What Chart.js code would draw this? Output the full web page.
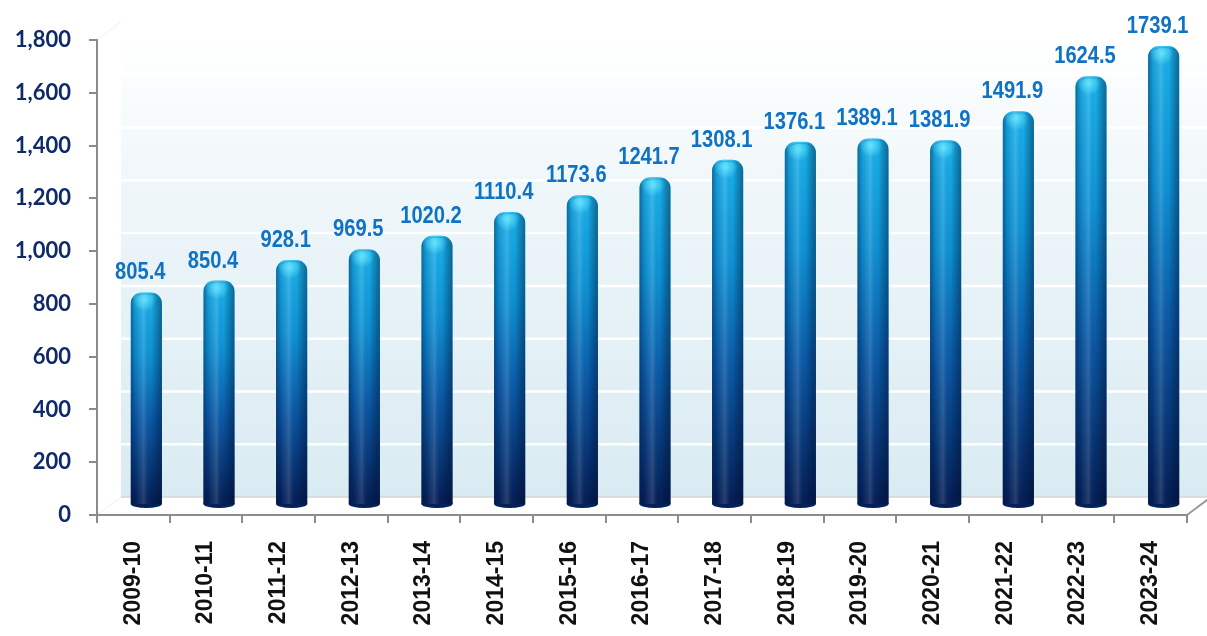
<!DOCTYPE html>
<html>
<head>
<meta charset="utf-8">
<script src="https://cdn.jsdelivr.net/npm/chart.js@4.4.1/dist/chart.umd.min.js"></script>
<style>
  html, body { margin: 0; padding: 0; background: #fff; }
  #wrap { width: 1207px; height: 636px; position: relative; }
</style>
</head>
<body>
<div id="wrap"><canvas id="chart"></canvas></div>
<script>
// data
const years = ['2009-10', '2010-11', '2011-12', '2012-13', '2013-14', '2014-15', '2015-16',
  '2016-17', '2017-18', '2018-19', '2019-20', '2020-21', '2021-22', '2022-23', '2023-24'];
const values = [805.4, 850.4, 928.1, 969.5, 1020.2, 1110.4, 1173.6,
  1241.7, 1308.1, 1376.1, 1389.1, 1381.9, 1491.9, 1624.5, 1739.1];
const yMin = 0;
const yMax = 1800;
const yStep = 200;

// 3d depth of the back wall
const depthX = 24;
const depthY = -18;
// bars sit half way into the depth
const barShiftX = 13;
const barShiftY = -10;

const wallPlugin = {
  id: 'wall',
  beforeDraw(chart) {
    const { ctx, chartArea, width } = chart;
    const y = chart.scales.y;
    const bottom = y.getPixelForValue(0);
    const wallLeft = chartArea.left + depthX;
    const wallBottom = bottom + depthY;
    const wallTop = 36;

    ctx.save();
    const g = ctx.createLinearGradient(0, wallTop, 0, wallBottom);
    g.addColorStop(0, '#ffffff');
    g.addColorStop(0.35, '#eef6f9');
    g.addColorStop(1, '#d9ebf2');
    ctx.fillStyle = g;
    ctx.fillRect(wallLeft, wallTop, width - wallLeft, wallBottom - wallTop);

    // gridlines on the back wall
    ctx.strokeStyle = '#ffffff';
    ctx.lineWidth = 2.5;
    for (let v = yMin + yStep; v < yMax; v += yStep) {
      const py = y.getPixelForValue(v) + depthY;
      ctx.beginPath();
      ctx.moveTo(wallLeft, py);
      ctx.lineTo(width, py);
      ctx.stroke();
    }

    // floor
    ctx.fillStyle = '#ffffff';
    ctx.beginPath();
    ctx.moveTo(chartArea.left, bottom);
    ctx.lineTo(wallLeft, wallBottom);
    ctx.lineTo(width, wallBottom);
    ctx.lineTo(width, bottom);
    ctx.closePath();
    ctx.fill();

    ctx.strokeStyle = '#d4d4d4';
    ctx.lineWidth = 1.5;
    ctx.beginPath();
    ctx.moveTo(wallLeft, wallBottom);
    ctx.lineTo(width, wallBottom);
    ctx.stroke();

    ctx.strokeStyle = '#eeeeee';
    ctx.lineWidth = 1;
    ctx.beginPath();
    ctx.moveTo(chartArea.left, bottom);
    ctx.lineTo(wallLeft, wallBottom);
    ctx.moveTo(chartArea.left, chartArea.top);
    ctx.lineTo(wallLeft, chartArea.top + depthY);
    ctx.stroke();

    // right edge of the floor
    ctx.strokeStyle = '#9a9a9a';
    ctx.lineWidth = 2;
    ctx.beginPath();
    ctx.moveTo(chartArea.right, bottom);
    ctx.lineTo(chartArea.right + depthX, wallBottom);
    ctx.stroke();
    ctx.restore();
  },
  beforeDatasetsDraw(chart) {
    chart.ctx.save();
    chart.ctx.translate(barShiftX, barShiftY);
  },
  afterDatasetsDraw(chart) {
    const ctx = chart.ctx;
    const meta = chart.getDatasetMeta(0);
    meta.data.forEach((bar, i) => {
      const { x, y, width, base } = bar.getProps(['x', 'y', 'width', 'base'], true);
      const left = x - width / 2;
      const r = 11;

      // bottom of the cylinder
      ctx.fillStyle = '#06205a';
      ctx.beginPath();
      ctx.ellipse(x, base, width / 2, 4, 0, 0, Math.PI * 2);
      ctx.fill();

      // side shading
      ctx.save();
      ctx.beginPath();
      ctx.roundRect(left, y, width, base - y, [r, r, 0, 0]);
      ctx.clip();
      const h = ctx.createLinearGradient(left, 0, left + width, 0);
      h.addColorStop(0, 'rgba(0,20,60,0.45)');
      h.addColorStop(0.15, 'rgba(0,20,60,0.12)');
      h.addColorStop(0.42, 'rgba(255,255,255,0.14)');
      h.addColorStop(0.65, 'rgba(0,0,0,0)');
      h.addColorStop(1, 'rgba(0,15,50,0.45)');
      ctx.fillStyle = h;
      ctx.fillRect(left, y, width, base - y + 4);

      // glossy top
      const rg = ctx.createRadialGradient(x - 2, y + 7, 0, x - 2, y + 7, 12);
      rg.addColorStop(0, 'rgba(110,235,255,0.85)');
      rg.addColorStop(1, 'rgba(110,235,255,0)');
      ctx.fillStyle = rg;
      ctx.fillRect(left, y, width, 24);
      ctx.restore();

      ctx.strokeStyle = 'rgba(0,70,130,0.25)';
      ctx.lineWidth = 1;
      ctx.beginPath();
      ctx.ellipse(x, y + 4, width / 2 - 6, 2.5, 0, Math.PI, Math.PI * 2);
      ctx.stroke();

      // value label, squeezed to look like a narrow face
      ctx.save();
      ctx.translate(x - 6, y - 13);
      ctx.scale(0.84, 1);
      ctx.fillStyle = '#0f72c4';
      ctx.font = 'bold 24px "Liberation Sans", Arial, sans-serif';
      ctx.textAlign = 'center';
      ctx.textBaseline = 'alphabetic';
      ctx.fillText(values[i].toFixed(1), 0, 0);
      ctx.restore();
    });
    ctx.restore();
  }
};

function barColor(context) {
  const chart = context.chart;
  if (!chart.chartArea) return '#1490d8';
  const y = chart.scales.y;
  const top = y.getPixelForValue(context.raw);
  const bottom = y.getPixelForValue(0);
  const g = chart.ctx.createLinearGradient(0, top, 0, bottom);
  g.addColorStop(0, '#19b2ec');
  g.addColorStop(0.3, '#0d92d6');
  g.addColorStop(0.6, '#0a5aa8');
  g.addColorStop(1, '#041d55');
  return g;
}

new Chart(document.getElementById('chart'), {
  type: 'bar',
  data: {
    labels: years,
    datasets: [{
      data: values,
      backgroundColor: barColor,
      borderWidth: 0,
      borderRadius: { topLeft: 11, topRight: 11, bottomLeft: 0, bottomRight: 0 },
      borderSkipped: 'bottom',
      categoryPercentage: 1,
      barPercentage: 0.43
    }]
  },
  options: {
    responsive: true,
    maintainAspectRatio: false,
    animation: false,
    layout: { padding: { top: 40, right: 20, left: 0, bottom: 0 } },
    plugins: {
      legend: { display: false },
      tooltip: { enabled: false }
    },
    scales: {
      x: {
        grid: {
          display: true,
          drawOnChartArea: false,
          drawTicks: true,
          tickLength: 8,
          color: '#8c8c8c',
          lineWidth: 2
        },
        border: { color: '#8c8c8c', width: 2 },
        ticks: {
          color: '#111111',
          font: { family: '"Liberation Sans", Arial, sans-serif', size: 23, weight: 'bold' },
          minRotation: 90,
          maxRotation: 90,
          padding: 18,
          autoSkip: false
        },
        afterFit(scale) { scale.height = 121; }
      },
      y: {
        min: yMin,
        max: yMax,
        grid: {
          display: true,
          drawOnChartArea: false,
          drawTicks: true,
          tickLength: 8,
          color: '#8c8c8c',
          lineWidth: 2
        },
        border: { color: '#8c8c8c', width: 2 },
        ticks: {
          stepSize: yStep,
          color: '#0e2a6b',
          padding: 18,
          font: { family: 'Lato, "Open Sans", sans-serif', size: 22, weight: 'bold' },
          callback: v => v.toLocaleString('en-US')
        },
        afterFit(scale) { scale.width = 97; }
      }
    }
  },
  plugins: [wallPlugin]
});
</script>
</body>
</html>
